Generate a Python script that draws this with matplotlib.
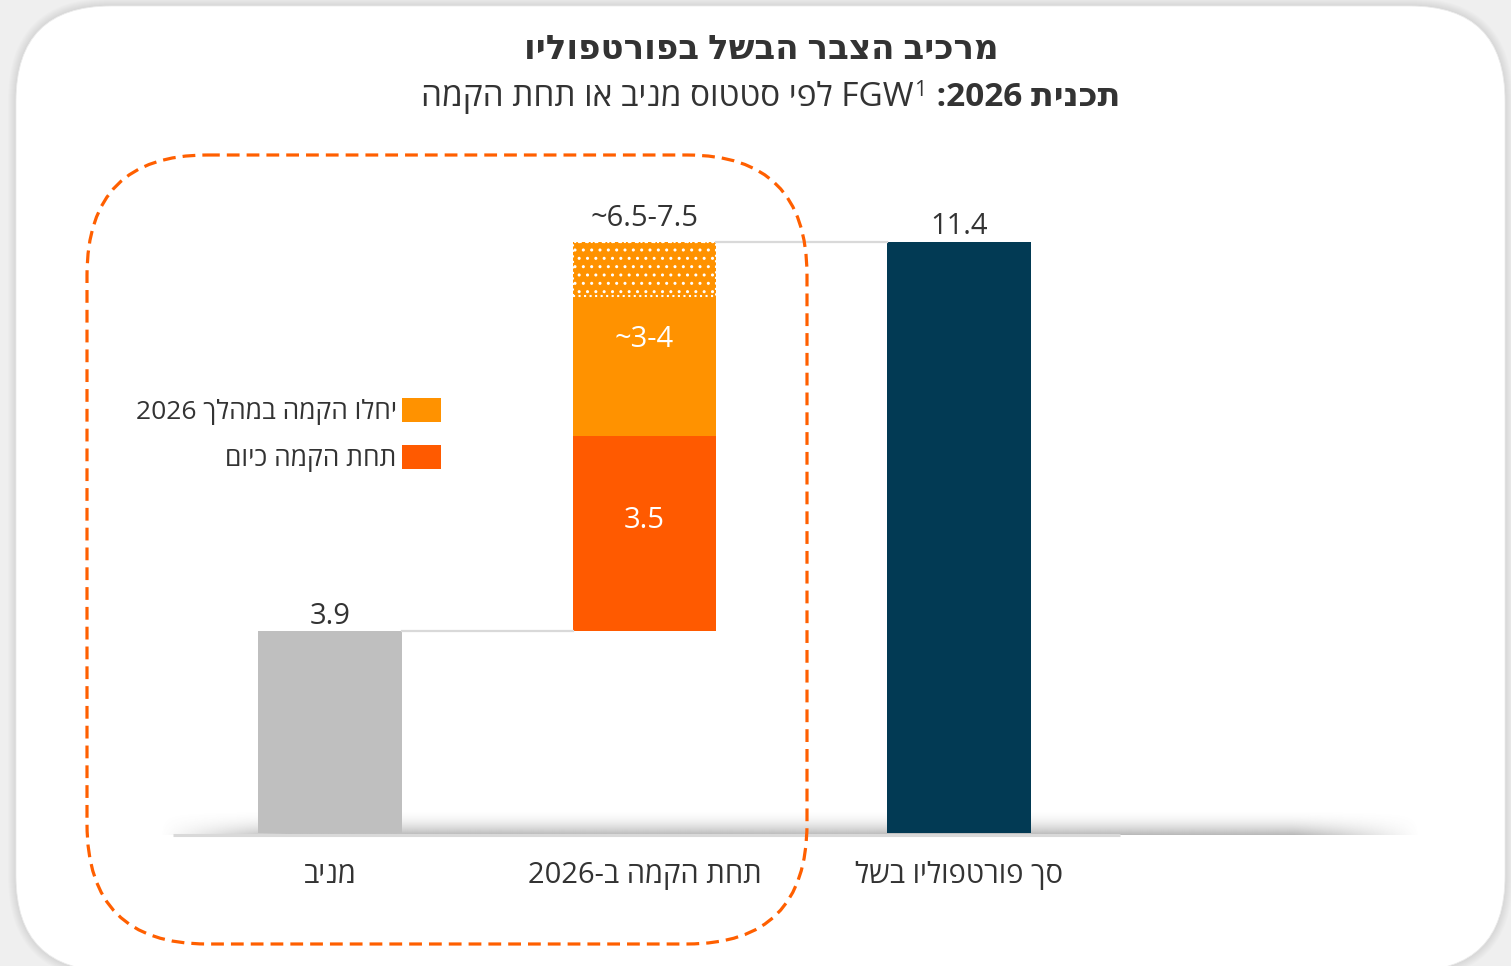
import re
import numpy as np
import matplotlib
matplotlib.use('Agg')
import matplotlib.pyplot as plt
from matplotlib.patches import FancyBboxPatch, Patch

plt.rcParams['font.family'] = ['Open Sans', 'DejaVu Sans']

# data (GW)
categories = ['מניב', 'תחת הקמה ב-2026', 'סך פורטפוליו בשל']
operating = 3.9
under_construction = 3.75
start_in_2026 = 2.7
start_upside = 1.05
total = 11.4
value_labels = ['3.9', '3.5', '~3-4', '~6.5-7.5', '11.4']
legend_labels = ['יחלו הקמה במהלך 2026', 'תחת הקמה כיום']
title = 'מרכיב הצבר הבשל בפורטפוליו'
subtitle_bold = 'תכנית 2026:'
subtitle_rest = 'לפי סטטוס מניב או תחת הקמה'

GREY = '#BFBFBF'
NAVY = '#023A54'
RED = '#FF5A00'
ORANGE = '#FF9200'
TEXT = '#333333'


def vis(s):
    # crude right-to-left -> visual order, numbers kept left-to-right
    runs = re.findall(r'[0-9A-Za-z.~]+|[^0-9A-Za-z.~]+', s)
    return ''.join(r if re.match(r'[0-9A-Za-z.~]', r) else r[::-1]
                   for r in reversed(runs))


W, H = 1511, 966
fig = plt.figure(figsize=(W / 100, H / 100), dpi=100, facecolor='#efefef')

# background axes in pixel coordinates
bg = fig.add_axes([0, 0, 1, 1], zorder=0)
bg.set_axis_off()

# card with soft shadow
for i in range(8, 0, -1):
    bg.add_patch(FancyBboxPatch((16 - i, 6 - i), 1489 + 2 * i, 965 + 2 * i,
                                boxstyle='round,pad=0,rounding_size=%d' % (95 + i),
                                fc='#000000', ec='none', alpha=0.01))
bg.add_patch(FancyBboxPatch((16, 6), 1489, 965,
                            boxstyle='round,pad=0,rounding_size=95',
                            fc='white', ec='#ececec', lw=0.6))

# baseline shadow
sh_h, sh_w = 26, 600
yy = np.linspace(0, 1, sh_h)[:, None]
xx = np.linspace(0, 1, sh_w)[None, :]
fade = np.clip(np.minimum(xx, 1 - xx) / 0.1, 0, 1)
img = np.zeros((sh_h, sh_w, 4))
img[..., :3] = 0.4
img[..., 3] = (yy ** 2.0) * 0.45 * fade
bg.imshow(img, extent=[160, 1420, 835, 809], aspect='auto',
          interpolation='bilinear', zorder=2)
bg.plot([173, 1120], [834.5, 834.5], color='#d9d9d9', lw=2.2, zorder=3,
        solid_capstyle='butt')
bg.set_xlim(0, W)
bg.set_ylim(H, 0)

# titles
bg.text(761, 50, vis(title), ha='center', va='center', fontsize=24.5,
        fontweight='bold', color=TEXT)

fig.canvas.draw()
r = fig.canvas.get_renderer()
sub_y = 98
t_rest = bg.text(0, sub_y, vis(subtitle_rest) + ' FGW', ha='left', va='center',
                 fontsize=24, color=TEXT)
t_sup = bg.text(0, sub_y - 7, '1', ha='left', va='center', fontsize=15.5,
                color=TEXT)
t_bold = bg.text(0, sub_y, ' ' + vis(subtitle_bold), ha='left', va='center',
                 fontsize=24, fontweight='bold', color=TEXT)
widths = [t.get_window_extent(r).width for t in (t_rest, t_sup, t_bold)]
x = 771.5 - sum(widths) / 2 - 2
for t, w in zip((t_rest, t_sup, t_bold), widths):
    t.set_x(x + (1 if t is t_sup else 0))
    x += w + (2 if t is t_sup else 0)

# data axes
ax = fig.add_axes([173 / W, (H - 833) / H, (1400 - 173) / W, 12 * 51.84 / H],
                  zorder=1)
ax.patch.set_alpha(0)
ax.set_axis_off()
bw = 0.455

ax.bar(0, operating, bw, color=GREY)
ax.bar(1, under_construction, bw, bottom=operating, color=RED)
ax.bar(1, start_in_2026, bw, bottom=operating + under_construction, color=ORANGE)
ax.bar(1, start_upside, bw, bottom=operating + under_construction + start_in_2026,
       color=ORANGE, hatch='..', edgecolor='white', linestyle=':', linewidth=1.5)
ax.bar(2, total, bw, color=NAVY)

# connectors
ax.plot([bw / 2, 1 - bw / 2], [operating, operating], color='#d9d9d9', lw=1.6)
ax.plot([1 + bw / 2, 2 - bw / 2], [total, total], color='#d9d9d9', lw=1.6)

# value labels
top_mid = operating + under_construction + start_in_2026 + start_upside
fs = 21
ax.text(0, operating + 0.28, value_labels[0], ha='center', va='center',
        fontsize=fs, color=TEXT)
ax.text(1, operating + under_construction * 0.57, value_labels[1], ha='center',
        va='center', fontsize=fs, color='white')
ax.text(1, operating + under_construction + start_in_2026 * 0.69, value_labels[2],
        ha='center', va='center', fontsize=fs, color='white')
ax.text(1, top_mid + 0.45, value_labels[3], ha='center', va='center',
        fontsize=fs, color=TEXT)
ax.text(2, total + 0.3, value_labels[4], ha='center', va='center',
        fontsize=fs, color=TEXT)

for i, c in enumerate(categories):
    ax.text(i, -0.82, vis(c), ha='center', va='center', fontsize=21, color=TEXT)

ax.set_xlim(-0.499, 3.402)
ax.set_ylim(0, 12)

handles = [Patch(facecolor=ORANGE), Patch(facecolor=RED)]
ax.legend(handles, [vis(s) for s in legend_labels], loc='upper right',
          bbox_to_anchor=(441 / W, 1 - 398 / H), bbox_transform=fig.transFigure,
          frameon=False, markerfirst=False, alignment='right', fontsize=19,
          handlelength=1.48, handleheight=1.0, handletextpad=0.2,
          labelspacing=0.78, borderpad=0, borderaxespad=0, labelcolor=TEXT)

# dashed frame around the 2026 group
fig.add_artist(FancyBboxPatch((87, 155), 720, 789,
                              boxstyle='round,pad=0,rounding_size=120',
                              transform=bg.transData, fill=False, ec='#FF5F00',
                              lw=2.3, linestyle=(0, (4, 2.2)), zorder=5))

fig.savefig('out.png', dpi=100, facecolor=fig.get_facecolor())
